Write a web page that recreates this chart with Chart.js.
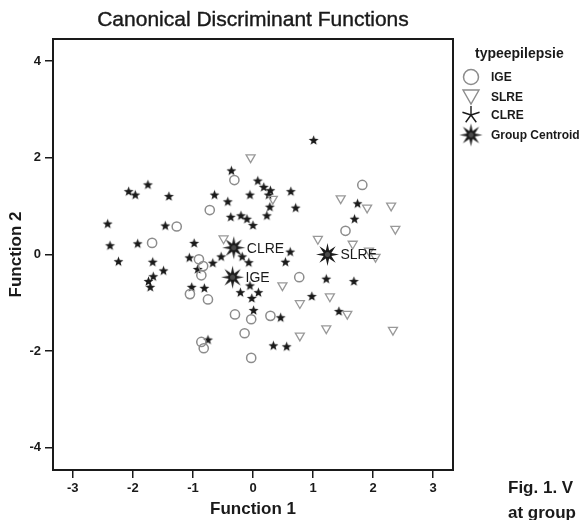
<!DOCTYPE html>
<html>
<head>
<meta charset="utf-8">
<script src="https://cdn.jsdelivr.net/npm/chart.js@4.4.1/dist/chart.umd.min.js"></script>
<style>
  body { margin: 0; background: #fff; font-family: "Liberation Sans", Arial, sans-serif; color: #1a1a1a; }
  #wrap { position: relative; width: 580px; height: 520px; overflow: hidden; }
  #grafico { position: absolute; left: 0; top: 0; }
  #titulo { position: absolute; left: 53px; width: 400px; top: 6px; line-height: 26px; text-align: center; font-size: 21px; -webkit-text-stroke: 0.4px #1a1a1a; }
  .ley { position: absolute; left: 491px; font-weight: bold; font-size: 12px; line-height: 14px; white-space: nowrap; }
  .ley.tit { left: 475px; font-size: 14px; line-height: 16px; }
  .sim { position: absolute; left: 458px; }
  .pie { position: absolute; left: 508px; font-weight: bold; font-size: 17px; line-height: 20px; white-space: nowrap; }
</style>
</head>
<body>
<div id="wrap">
  <canvas id="grafico" width="580" height="520"></canvas>
  <div id="titulo">Canonical Discriminant Functions</div>
  <div class="ley tit" style="top:45px">typeepilepsie</div>
  <div class="ley" style="top:70px">IGE</div>
  <div class="ley" style="top:90px">SLRE</div>
  <div class="ley" style="top:108px">CLRE</div>
  <div class="ley" style="top:128px">Group Centroid</div>
  <div class="pie" style="top:478px">Fig. 1. V</div>
  <div class="pie" style="top:503px">at group</div>
</div>
<script>
// Grupos
const grupos = ['IGE', 'SLRE', 'CLRE'];

// IGE (circulos)
const igeX = [-0.31, -0.72, -1.27, -1.68, -0.90, -0.83, -0.86, -1.05, -0.75, -0.30,
              -0.03, -0.14, -0.86, -0.82, -0.03, 1.82, 1.54, 0.77, 0.29];
const igeY = [1.54, 0.92, 0.58, 0.24, -0.10, -0.24, -0.43, -0.82, -0.93, -1.24,
              -1.34, -1.63, -1.81, -1.94, -2.14, 1.44, 0.49, -0.47, -1.27];

// SLRE (triangulos)
const slreX = [-0.04, 0.33, 1.46, 1.90, 2.30, 2.37, -0.49, 1.08, 1.66, 1.93,
               2.04, 0.49, 1.28, 0.78, 1.57, 1.22, 2.33, 0.78];
const slreY = [2.01, 1.15, 1.16, 0.97, 1.01, 0.53, 0.33, 0.32, 0.22, 0.08,
               -0.05, -0.64, -0.87, -1.01, -1.23, -1.53, -1.56, -1.68];

// CLRE (estrellas)
const clreX = [-0.36, 0.08, -2.07, -1.96, -1.75, -1.40, -0.64, -0.05, -0.42, -0.37,
               -0.20, -0.10, 0.00, -2.42, -1.46, 1.01, 0.18, 0.29, 0.26, 0.63,
               0.71, 0.28, 0.23, 1.74, 1.69, -2.38, -1.92, -0.98, -2.24, -1.67,
               -1.49, -1.06, -0.92, -0.67, -0.53, -0.18, -0.07, -1.66, -1.74, -1.71,
               -1.02, -0.81, -0.21, -0.02, 0.01, -0.75, 0.62, 0.54, 1.22, 1.68,
               -0.05, 0.09, 0.98, 0.46, 1.43, 0.34, 0.56];
const clreY = [1.73, 1.52, 1.30, 1.23, 1.44, 1.20, 1.23, 1.23, 1.09, 0.77,
               0.80, 0.73, 0.60, 0.63, 0.59, 2.36, 1.39, 1.32, 1.23, 1.30,
               0.96, 0.98, 0.80, 1.05, 0.73, 0.18, 0.22, 0.23, -0.15, -0.16,
               -0.34, -0.07, -0.31, -0.18, -0.05, -0.05, -0.17, -0.46, -0.56, -0.68,
               -0.68, -0.70, -0.79, -0.91, -1.16, -1.77, 0.05, -0.16, -0.51, -0.56,
               -0.65, -0.79, -0.87, -1.31, -1.18, -1.89, -1.91];

// Centroides de grupo (mismo orden que grupos)
const centroX = [-0.34, 1.24, -0.32];
const centroY = [-0.47, 0.00, 0.14];

// Ticks
const ticksX = [-3, -2, -1, 0, 1, 2, 3];
const ticksY = [-4, -2, 0, 2, 4];

const negro = '#1a1a1a';
const gris = '#8c8c8c';

const juntar = (xs, ys) => xs.map((x, i) => ({ x: x, y: ys[i] }));

// Estrella rellena como imagen para pointStyle
function hacerEstrella(puntas, rExt, rInt, relleno, centro) {
  const size = Math.ceil(rExt * 2 + 2);
  const c = document.createElement('canvas');
  c.width = c.height = size;
  const g = c.getContext('2d');
  g.translate(size / 2, size / 2);
  g.beginPath();
  for (let i = 0; i < puntas * 2; i++) {
    const r = i % 2 === 0 ? rExt : rInt;
    const a = -Math.PI / 2 + i * Math.PI / puntas;
    g.lineTo(Math.cos(a) * r, Math.sin(a) * r);
  }
  g.closePath();
  g.fillStyle = relleno;
  g.fill();
  if (centro) {
    g.beginPath();
    g.arc(0, 0, rInt * 0.6, 0, Math.PI * 2);
    g.fillStyle = centro;
    g.fill();
  }
  return c;
}

const estrella = hacerEstrella(5, 5.2, 2.2, negro);
const centroide = hacerEstrella(8, 11.5, 4.2, negro, '#4a4a4a');

// Simbolos de la leyenda
function simbolo(top, dibujar) {
  const c = document.createElement('canvas');
  c.width = 26; c.height = 26;
  c.className = 'sim';
  c.style.top = (top - 13) + 'px';
  const g = c.getContext('2d');
  g.translate(13, 13);
  dibujar(g);
  document.getElementById('wrap').appendChild(c);
}
simbolo(77, g => {
  g.beginPath(); g.arc(0, 0, 7.5, 0, Math.PI * 2);
  g.strokeStyle = gris; g.lineWidth = 1.5; g.stroke();
});
simbolo(96, g => {
  g.beginPath(); g.moveTo(-8, -6); g.lineTo(8, -6); g.lineTo(0, 8); g.closePath();
  g.strokeStyle = gris; g.lineWidth = 1.4; g.stroke();
});
simbolo(115, g => {
  g.beginPath();
  for (let i = 0; i < 5; i++) {
    const a = -Math.PI / 2 + i * 2 * Math.PI / 5;
    g.moveTo(0, 0); g.lineTo(Math.cos(a) * 9, Math.sin(a) * 9);
  }
  g.strokeStyle = negro; g.lineWidth = 1.4; g.stroke();
});
simbolo(135, g => { g.drawImage(centroide, -centroide.width / 2, -centroide.height / 2); });

// Marco completo del area del grafico
const marco = {
  id: 'marco',
  afterDraw(chart) {
    const { ctx, chartArea: a } = chart;
    ctx.save();
    ctx.strokeStyle = negro;
    ctx.lineWidth = 2;
    ctx.strokeRect(a.left, a.top, a.right - a.left, a.bottom - a.top);
    ctx.restore();
  }
};

// Etiquetas junto a los centroides
const etiquetas = {
  id: 'etiquetas',
  afterDatasetsDraw(chart) {
    const { ctx, scales } = chart;
    ctx.save();
    ctx.font = '14px "Liberation Sans", Arial, sans-serif';
    ctx.fillStyle = negro;
    ctx.textBaseline = 'middle';
    grupos.forEach((nombre, i) => {
      const px = scales.x.getPixelForValue(centroX[i]);
      const py = scales.y.getPixelForValue(centroY[i]);
      ctx.fillText(nombre, px + 13, py + 1);
    });
    ctx.restore();
  }
};

const fuenteEje = { family: '"Liberation Sans", Arial, sans-serif', weight: 'bold', size: 13 };
const fuenteTitulo = { family: '"Liberation Sans", Arial, sans-serif', weight: 'bold', size: 17 };

new Chart(document.getElementById('grafico'), {
  type: 'scatter',
  data: {
    datasets: [
      {
        label: 'IGE',
        data: juntar(igeX, igeY),
        pointStyle: 'circle',
        pointRadius: 4.6,
        borderColor: gris,
        backgroundColor: 'rgba(0,0,0,0)',
        borderWidth: 1.5
      },
      {
        label: 'SLRE',
        data: juntar(slreX, slreY),
        pointStyle: 'triangle',
        rotation: 180,
        pointRadius: 5.2,
        borderColor: '#999',
        backgroundColor: 'rgba(0,0,0,0)',
        borderWidth: 1.3
      },
      {
        label: 'CLRE',
        data: juntar(clreX, clreY),
        pointStyle: estrella
      },
      {
        label: 'Group Centroid',
        data: juntar(centroX, centroY),
        pointStyle: centroide
      }
    ]
  },
  options: {
    responsive: false,
    animation: false,
    layout: { padding: { top: 39, right: 127, bottom: 0, left: 0 } },
    plugins: {
      legend: { display: false },
      tooltip: { enabled: false }
    },
    scales: {
      x: {
        type: 'linear',
        min: -3.33,
        max: 3.33,
        afterFit: s => { s.height = 50; },
        afterBuildTicks: s => { s.ticks = ticksX.map(v => ({ value: v })); },
        ticks: { font: fuenteEje, color: negro, padding: 3, maxRotation: 0 },
        grid: { drawOnChartArea: false, tickLength: 8, color: negro, lineWidth: 1.5 },
        border: { display: false },
        title: { display: true, text: 'Function 1', font: fuenteTitulo, color: negro, padding: { top: 0, bottom: 0 } }
      },
      y: {
        type: 'linear',
        min: -4.46,
        max: 4.46,
        afterFit: s => { s.width = 53; },
        afterBuildTicks: s => { s.ticks = ticksY.map(v => ({ value: v })); },
        ticks: { font: fuenteEje, color: negro, padding: 4 },
        grid: { drawOnChartArea: false, tickLength: 8, color: negro, lineWidth: 1.5 },
        border: { display: false },
        title: { display: true, text: 'Function 2', font: fuenteTitulo, color: negro, padding: { top: 6, bottom: 0 } }
      }
    }
  },
  plugins: [marco, etiquetas]
});
</script>
</body>
</html>
